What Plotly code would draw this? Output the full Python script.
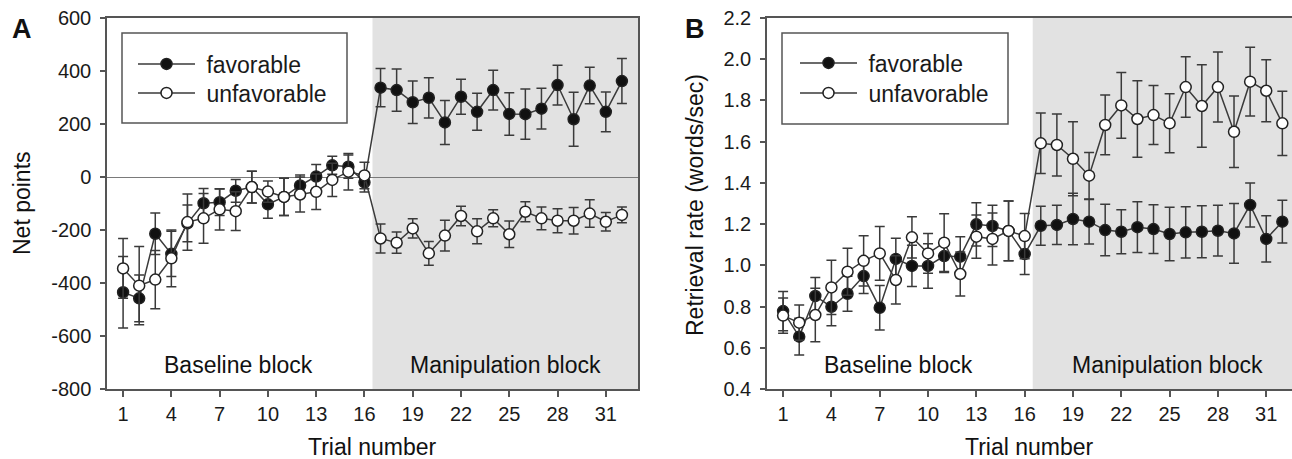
import plotly.graph_objects as go

trials = list(range(1, 33))
xticks = [1, 4, 7, 10, 13, 16, 19, 22, 25, 28, 31]
a_ytickvals = [-800, -600, -400, -200, 0, 200, 400, 600]
a_yticktext = ["-800", "-600", "-400", "-200", "0", "200", "400", "600"]

# Panel A: Net points
a_fav = [-435, -458, -214, -290, -175, -99, -95, -52, -38, -103, -75, -32, 2, 44, 39, -20,
         337, 328, 282, 299, 206, 303, 246, 328, 238, 237, 258, 347, 218, 345, 246, 362]
a_fav_err = [135, 88, 78, 85, 69, 56, 50, 43, 60, 53, 70, 40, 45, 34, 44, 37,
             72, 80, 80, 76, 83, 66, 70, 75, 80, 95, 77, 75, 102, 69, 75, 85]
a_unf = [-345, -410, -387, -307, -170, -156, -122, -129, -38, -55, -75, -66, -56, -11, 20, 6,
         -232, -248, -194, -288, -221, -147, -205, -156, -216, -131, -156, -165, -165, -138, -169, -143]
a_unf_err = [113, 148, 110, 107, 106, 94, 78, 73, 60, 40, 70, 66, 67, 63, 69, 50,
             55, 40, 36, 45, 58, 37, 47, 32, 50, 38, 43, 45, 50, 52, 35, 30]

# Panel B: Retrieval rate
b_fav = [0.778, 0.654, 0.851, 0.799, 0.862, 0.948, 0.794, 1.031, 0.997, 0.997, 1.045, 1.042,
         1.199, 1.191, 1.167, 1.055, 1.192, 1.196, 1.225, 1.212, 1.171, 1.163, 1.185, 1.176,
         1.152, 1.160, 1.163, 1.168, 1.155, 1.293, 1.128, 1.212]
b_fav_err = [0.095, 0.089, 0.09, 0.092, 0.085, 0.085, 0.108, 0.1, 0.1, 0.108, 0.08, 0.097,
             0.105, 0.1, 0.145, 0.1, 0.095, 0.095, 0.125, 0.108, 0.125, 0.107, 0.123, 0.118,
             0.13, 0.124, 0.126, 0.123, 0.145, 0.107, 0.112, 0.104]
b_unf = [0.756, 0.722, 0.759, 0.893, 0.969, 1.022, 1.058, 0.929, 1.136, 1.058, 1.110, 0.958,
         1.139, 1.128, 1.167, 1.142, 1.592, 1.584, 1.517, 1.435, 1.681, 1.776, 1.710, 1.729,
         1.689, 1.865, 1.773, 1.865, 1.648, 1.891, 1.847, 1.689]
b_unf_err = [0.086, 0.086, 0.13, 0.132, 0.114, 0.122, 0.13, 0.117, 0.1, 0.097, 0.14, 0.107,
             0.105, 0.126, 0.145, 0.11, 0.147, 0.15, 0.18, 0.113, 0.145, 0.16, 0.185, 0.143,
             0.143, 0.147, 0.2, 0.17, 0.173, 0.167, 0.15, 0.156]

W, H = 1292, 459
ML, MR, MT, MB = 0, 0, 18, 70
PH = H - MT - MB

def px(x):
    return x / W

def py(y):
    return (H - MB - y) / PH

FONT = "Liberation Sans, Arial, sans-serif"
LINEC = "#3a3a3a"
AXC = "#555555"
NB = "\u00a0"

fig = go.Figure()

def add_series(x, y, err, filled, xa, ya, name, legend):
    fig.add_trace(go.Scatter(
        x=x, y=y, xaxis=xa, yaxis=ya, name=NB + name, legend=legend, showlegend=True,
        mode="lines+markers",
        line=dict(color=LINEC, width=1.5),
        marker=dict(size=11, color="#111111" if filled else "white",
                    line=dict(color="#222222", width=1.5), symbol="circle"),
        error_y=dict(type="data", array=err, visible=True, color=LINEC, thickness=1.5, width=5),
    ))

add_series(trials, a_fav, a_fav_err, True, "x", "y", "favorable", "legend")
add_series(trials, a_unf, a_unf_err, False, "x", "y", "unfavorable", "legend2")
add_series(trials, b_fav, b_fav_err, True, "x2", "y2", "favorable", "legend3")
add_series(trials, b_unf, b_unf_err, False, "x2", "y2", "unfavorable", "legend4")

axis_common = dict(showline=True, linecolor=AXC, linewidth=1.5, ticks="outside",
                   tickcolor=AXC, tickwidth=1.5, showgrid=False,
                   tickfont=dict(family=FONT, size=20, color="#1a1a1a"))

def leg(x, y):
    return dict(x=px(x), y=py(y), xanchor="left", yanchor="middle", bgcolor="rgba(0,0,0,0)",
                borderwidth=0, itemwidth=57, font=dict(family=FONT, size=23, color="#1a1a1a"),
                tracegroupgap=0)

fig.update_layout(
    width=W, height=H,
    margin=dict(l=ML, r=MR, t=MT, b=MB),
    paper_bgcolor="white", plot_bgcolor="white",
    font=dict(family=FONT, color="#1a1a1a"),
    xaxis=dict(domain=[107 / W, 638 / W], range=[0, 33], tickvals=xticks, ticklen=6,
               mirror=True, zeroline=False, anchor="y", **axis_common),
    yaxis=dict(range=[-800, 600], tickvals=a_ytickvals, ticktext=a_yticktext, ticklen=5,
               mirror=True, zeroline=True, ticklabelstandoff=5,
               zerolinecolor="#7a7a7a", zerolinewidth=1.2, anchor="x", **axis_common),
    xaxis2=dict(domain=[767 / W, 1.0], range=[0, 32.6], tickvals=xticks, ticklen=6,
                mirror=True, zeroline=False, anchor="y2", **axis_common),
    yaxis2=dict(range=[0.4, 2.2], dtick=0.2, tickformat=".1f", ticklen=5, mirror=False,
                zeroline=False, ticklabelstandoff=5, anchor="x2", **axis_common),
    legend=leg(133, 64),
    legend2=leg(133, 93),
    legend3=leg(795, 63),
    legend4=leg(795, 93),
)

shapes = [
    dict(type="rect", xref="x", yref="y domain", x0=16.5, x1=33, y0=0, y1=1,
         fillcolor="#e2e2e2", line=dict(width=0), layer="below"),
    dict(type="rect", xref="x2", yref="y2 domain", x0=16.5, x1=32.6, y0=0, y1=1,
         fillcolor="#e2e2e2", line=dict(width=0), layer="below"),
    dict(type="rect", xref="paper", yref="paper", x0=px(122), x1=px(347), y0=py(123), y1=py(33),
         line=dict(color=AXC, width=1.5), fillcolor="rgba(0,0,0,0)"),
    dict(type="rect", xref="paper", yref="paper", x0=px(782), x1=px(1008), y0=py(124), y1=py(33),
         line=dict(color=AXC, width=1.5), fillcolor="rgba(0,0,0,0)"),
]
fig.update_layout(shapes=shapes)

def ann(text, x, y, size=23, bold=False, angle=0):
    fig.add_annotation(text=f"<b>{text}</b>" if bold else text, xref="paper", yref="paper",
                       x=px(x), y=py(y), xanchor="center", yanchor="middle", showarrow=False,
                       textangle=angle, font=dict(family=FONT, size=size, color="#111111"))

ann("A", 22, 29, size=27, bold=True)
ann("B", 695, 29, size=27, bold=True)
ann("Net points", 22, 203, angle=-90)
ann("Retrieval rate (words/sec)", 695, 205, angle=-90)
ann("Trial number", 372, 447)
ann("Trial number", 1029, 447)
ann("Baseline block", 238, 365)
ann("Baseline block", 898, 365)
ann("Manipulation block", 505, 365)
ann("Manipulation block", 1167, 365)

fig.write_html("out.html", config={"displayModeBar": False},
               post_script="document.body.style.margin='0px';")
